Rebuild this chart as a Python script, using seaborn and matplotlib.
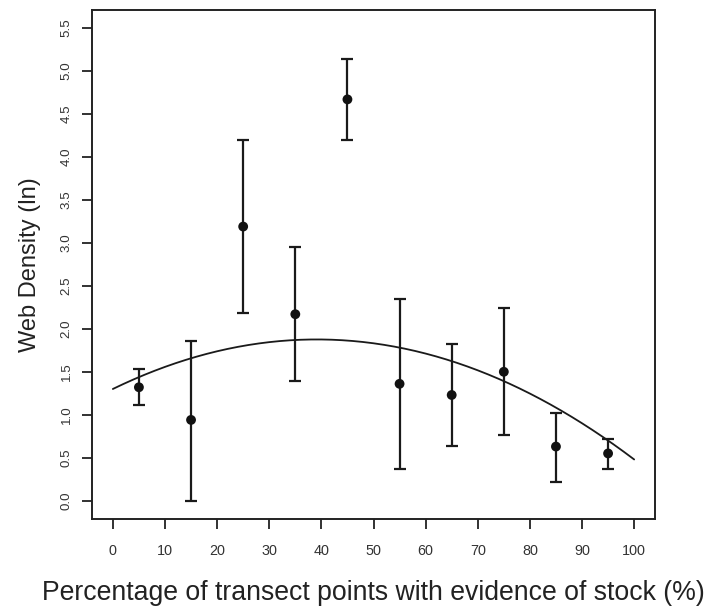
import numpy as np
import pandas as pd
import matplotlib
matplotlib.use("Agg")
import matplotlib.pyplot as plt
import seaborn as sns

# Binned stock evidence (%) and mean web density (ln) with interval bounds
stock_pct = [5, 15, 25, 35, 45, 55, 65, 75, 85, 95]
density_mean = [1.32, 0.94, 3.19, 2.17, 4.67, 1.36, 1.23, 1.50, 0.63, 0.55]
density_upper = [1.53, 1.86, 4.20, 2.95, 5.14, 2.35, 1.82, 2.24, 1.02, 0.72]
density_lower = [1.11, 0.00, 2.18, 1.39, 4.20, 0.37, 0.64, 0.76, 0.22, 0.37]

# Quadratic fit: intercept, linear, squared terms
fit_coef = [1.30, 0.02947, -0.0003767]

x_ticks = [0, 10, 20, 30, 40, 50, 60, 70, 80, 90, 100]
y_ticks = [0.0, 0.5, 1.0, 1.5, 2.0, 2.5, 3.0, 3.5, 4.0, 4.5, 5.0, 5.5]

sns.set_style("ticks")
plt.rcParams["font.family"] = ["Liberation Sans", "DejaVu Sans"]

fig = plt.figure(figsize=(7.08, 6.10), dpi=100)
ax = fig.add_axes([92 / 708, 1 - 519 / 610, (655 - 92) / 708, (519 - 10) / 610])

df = pd.DataFrame({"x": stock_pct, "y": density_mean,
                   "hi": density_upper, "lo": density_lower})

# Fitted curve
xs = np.linspace(0, 100, 201)
curve = pd.DataFrame({"x": xs,
                      "y": fit_coef[0] + fit_coef[1] * xs + fit_coef[2] * xs ** 2})
sns.lineplot(data=curve, x="x", y="y", ax=ax, color="#1a1a1a", lw=1.3)

# Interval bars
yerr = np.vstack([df["y"] - df["lo"], df["hi"] - df["y"]])
ax.errorbar(df["x"], df["y"], yerr=yerr, fmt="none", ecolor="#1a1a1a",
            elinewidth=1.6, capsize=4.3, capthick=1.6)

# Means
sns.scatterplot(data=df, x="x", y="y", ax=ax, color="#111111", s=50,
                edgecolor="none", zorder=5)

ax.set_xlim(-4, 104)
ax.set_ylim(-0.213, 5.71)
ax.set_xticks(x_ticks)
ax.set_xticklabels([str(t) for t in x_ticks])
ax.set_yticks(y_ticks)
ax.set_yticklabels([f"{t:.1f}" for t in y_ticks], rotation=90, va="center")

ax.tick_params(axis="both", direction="out", length=7, width=1.3,
               colors="#222222", labelcolor="#333333")
ax.tick_params(axis="x", pad=11, labelsize=10.4)
ax.tick_params(axis="y", pad=7, labelsize=9.6)
for s in ax.spines.values():
    s.set_linewidth(1.4)
    s.set_color("#222222")

ax.set_xlabel("Percentage of transect points with evidence of stock (%)",
              fontsize=19.2, color="#222222", labelpad=16)
ax.set_ylabel("Web Density (ln)", fontsize=17, color="#222222", labelpad=14)

fig.savefig("out.png", dpi=100, facecolor="white")
